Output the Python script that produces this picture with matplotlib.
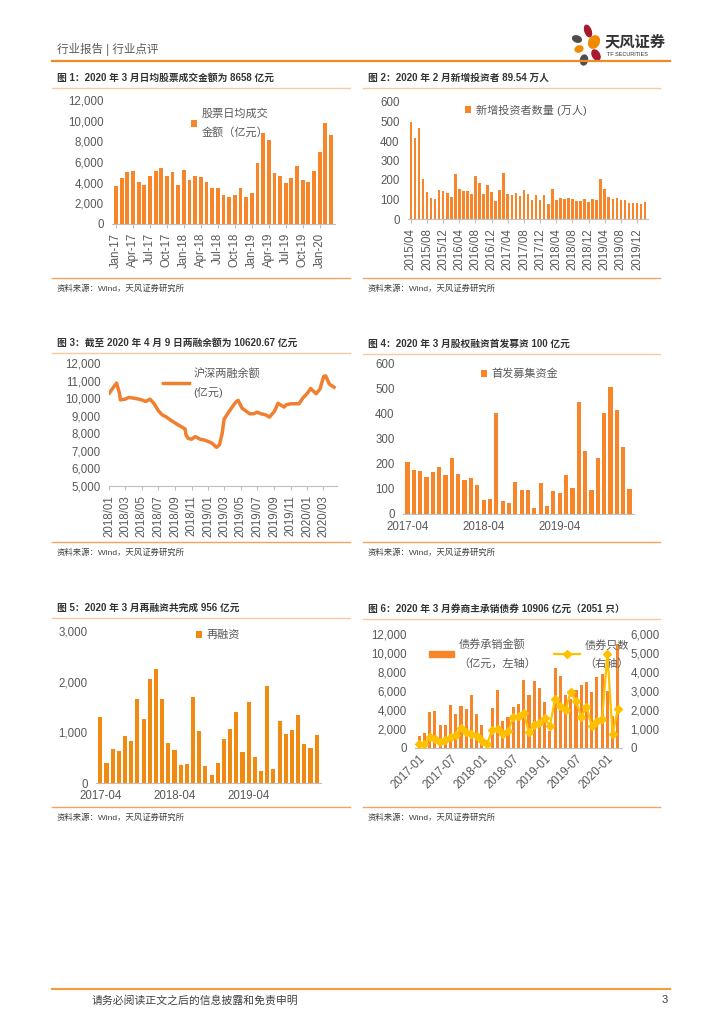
import numpy as np
import pandas as pd
import matplotlib
matplotlib.use('Agg')
import matplotlib.pyplot as plt
import matplotlib.dates as mdates
from matplotlib.patches import Ellipse, Patch
from matplotlib.lines import Line2D

plt.rcParams['font.family'] = ['Liberation Sans', 'Noto Sans CJK SC']
plt.rcParams['axes.unicode_minus'] = False

# ---- data ----
# fig 1: daily avg turnover (亿元), Jan-17 .. Mar-20
turnover = [3700, 4500, 5000, 5100, 4050, 3800, 4600, 5100, 5400, 4600, 5000, 3800,
            5200, 4300, 4650, 4550, 4100, 3500, 3500, 2800, 2600, 2800, 3500, 2600,
            3000, 5900, 8800, 8100, 4900, 4600, 4000, 4500, 5600, 4300, 4050, 5100,
            6950, 9800, 8658]
turnover_start = '2017-01'

# fig 2: new investors (万人), 2015/04 .. 2020/02
new_investors = [497, 415, 465, 205, 137, 108, 105, 147, 142,
                 135, 115, 230, 155, 142, 142, 130, 220, 185, 130, 175, 140,
                 93, 150, 235, 128, 122, 133, 120, 150, 130, 95, 122, 97,
                 122, 75, 155, 95, 107, 102, 107, 105, 90, 90, 105, 85,
                 103, 98, 203, 153, 115, 105, 107, 97, 95, 80, 82, 80,
                 78, 89.54]
investors_start = '2015-04'

# fig 3: margin balance (亿元)
margin_dates = ['2018-01-02', '2018-01-15', '2018-01-29', '2018-02-09', '2018-02-12', '2018-03-01',
                '2018-03-15', '2018-04-02', '2018-04-16', '2018-05-02', '2018-05-16', '2018-06-01',
                '2018-06-15', '2018-07-02', '2018-07-16', '2018-08-01', '2018-08-15', '2018-09-03',
                '2018-09-17', '2018-10-08', '2018-10-12', '2018-10-19', '2018-11-01', '2018-11-15',
                '2018-12-03', '2018-12-17', '2019-01-02', '2019-01-16', '2019-02-01', '2019-02-12',
                '2019-02-22', '2019-03-01', '2019-03-15', '2019-04-01', '2019-04-15', '2019-04-22',
                '2019-05-06', '2019-05-15', '2019-06-03', '2019-06-17', '2019-07-01', '2019-07-15',
                '2019-08-01', '2019-08-15', '2019-09-02', '2019-09-16', '2019-10-08', '2019-10-16',
                '2019-11-01', '2019-11-15', '2019-12-02', '2019-12-16', '2020-01-02', '2020-01-14',
                '2020-02-03', '2020-02-17', '2020-03-02', '2020-03-09', '2020-03-23', '2020-04-09']
margin_vals = [10285, 10570, 10855, 10250, 9900, 9940,
               10040, 10000, 9960, 9900, 9810, 9940,
               9710, 9280, 9050, 8920, 8760, 8570,
               8440, 8250, 7900, 7720, 7660, 7810,
               7660, 7620, 7530, 7430, 7200, 7340,
               8000, 8800, 9140, 9520, 9810, 9870,
               9430, 9330, 9110, 9110, 9200, 9110,
               9050, 8920, 9240, 9710, 9490, 9620,
               9680, 9680, 9680, 10000, 10285, 10550,
               10250, 10510, 11235, 11270, 10800, 10620.67]

# fig 4: IPO funds (亿元), 2017-04 .. 2020-03
ipo = [205, 175, 170, 148, 167, 185, 155, 222, 160, 135, 142, 115,
       55, 60, 403, 50, 45, 128, 97, 95, 25, 125, 30, 92,
       85, 155, 102, 445, 250, 97, 222, 400, 505, 415, 268, 100]

# fig 5: refinancing (亿元), 2017-04 .. 2020-03
refin = [1300, 400, 670, 640, 930, 820, 1650, 1260, 2050, 2250, 1650, 790,
         660, 360, 370, 1700, 1020, 340, 150, 390, 870, 1070, 1410, 610,
         1590, 510, 240, 1920, 270, 1230, 970, 1050, 1350, 760, 690, 956]
equity_start = '2017-04'

# fig 6: bond underwriting, 2017-01 .. 2020-03
bond_amt = [1230, 1580, 3790, 3860, 2460, 2460, 4560, 3610, 4390, 4100, 5540, 3610,
            2390, 880, 4250, 6140, 2810, 3260, 4320, 4670, 7120, 5610, 7090, 6320,
            4810, 1750, 8420, 7540, 5600, 5200, 6140, 6600, 6900, 5900, 7440, 7790,
            6040, 3330, 10906]
bond_cnt = [230, 230, 560, 490, 300, 420, 560, 660, 1040, 830, 730, 610,
            350, 230, 960, 990, 730, 870, 1650, 1690, 1860, 820, 1220, 1340,
            1570, 1170, 2570, 2230, 2000, 2960, 2470, 1650, 2170, 1170, 1430, 1530,
            4960, 730, 2051]
bond_start = '2017-01'

W, H = 724, 1024
ORANGE = '#F7862A'
TXT = '#595959'

fig = plt.figure(figsize=(W / 100, H / 100), dpi=100)
fig.patch.set_facecolor('white')

# page overlay in pixel coords
page = fig.add_axes([0, 0, 1, 1], zorder=-1)
page.set_xlim(0, W)
page.set_ylim(H, 0)
page.axis('off')


def px_axes(x0, y0, x1, y1):
    return fig.add_axes([x0 / W, 1 - y1 / H, (x1 - x0) / W, (y1 - y0) / H])


def style(ax, ymax, step, fmt='{:,.0f}', ymin=0):
    ax.set_ylim(ymin, ymax)
    ax.set_yticks(np.arange(ymin, ymax + 1, step))
    ax.set_yticklabels([fmt.format(v) for v in np.arange(ymin, ymax + 1, step)])
    for s in ['top', 'right', 'left']:
        ax.spines[s].set_visible(False)
    ax.spines['bottom'].set_color('#BFBFBF')
    ax.tick_params(axis='y', length=0, labelsize=8.3, labelcolor=TXT, pad=6)
    ax.tick_params(axis='x', length=3, color='#BFBFBF', labelsize=8.3, labelcolor=TXT)
    ax.set_facecolor('none')


def add_legend(ax, x, y, spacing=1.9, **kw):
    opts = dict(loc='center left', bbox_to_anchor=(x / W, 1 - y / H), bbox_transform=fig.transFigure,
                frameon=False, fontsize=8, handlelength=0.6, handleheight=0.6, handletextpad=0.4,
                labelcolor=TXT, borderpad=0)
    opts.update(kw)
    leg = ax.legend(**opts)
    for t in leg.get_texts():
        t.set_linespacing(spacing)
    return leg


def frame(x0, x1, y_title, y_bottom, title):
    page.text(x0 + 5, y_title, title, fontsize=7, fontweight='bold', color='#333333', va='center')
    page.plot([x0, x1], [y_title + 10, y_title + 10], color='#F9C9A0', lw=1)
    page.plot([x0, x1], [y_bottom, y_bottom], color='#F5A25D', lw=1)
    page.text(x0 + 5, y_bottom + 11, '资料来源：Wind，天风证券研究所', fontsize=6, color='#404040', va='center')


# header / footer
page.text(57, 49, '行业报告 | 行业点评', fontsize=8.3, color='#595959', va='center')
page.plot([52, 670], [61, 61], color='#F08A24', lw=1.6)
page.plot([52, 670], [989, 989], color='#F0A040', lw=1.6)
page.text(92, 1000, '请务必阅读正文之后的信息披露和免责申明', fontsize=7.8, color='#404040', va='center')
page.text(662, 1000, '3', fontsize=8, color='#404040', va='center')
for (cx, cy, w, h, ang, c) in [(588, 31, 6, 12, -20, '#A6192E'), (577, 39, 9, 6, 20, '#4D4D4D'),
                               (594, 42, 10, 13, 30, '#F08A00'), (579, 49, 8, 6, -20, '#F08A00'),
                               (596, 55, 7, 11, -30, '#A6192E'), (584, 60, 7, 10, 10, '#4D4D4D')]:
    page.add_patch(Ellipse((cx, cy), w, h, angle=ang, color=c))
page.text(605, 42, '天风证券', fontsize=11, fontweight='bold', color='#333333', va='center')
page.text(607, 55, 'TF SECURITIES', fontsize=4, color='#333333', va='center')

# ---- fig 1 ----
frame(52, 350, 78, 278, '图 1：2020 年 3 月日均股票成交金额为 8658 亿元')
ax1 = px_axes(112, 100, 335, 224)
x = np.arange(len(turnover))
ax1.bar(x, turnover, width=0.68, color=ORANGE, label='股票日均成交\n金额（亿元）')
style(ax1, 12000, 2000)
ax1.set_xlim(-0.7, len(turnover) - 0.3)
m1 = pd.date_range(turnover_start, periods=len(turnover), freq='MS')
ax1.set_xticks(x[::3])
ax1.set_xticklabels(m1[::3].strftime('%b-%y'), rotation=90)
add_legend(ax1, 185, 123)

# ---- fig 2 ----
frame(363, 660, 78, 278, '图 2：2020 年 2 月新增投资者 89.54 万人')
ax2 = px_axes(408, 102, 648, 219)
x = np.arange(len(new_investors))
ax2.bar(x, new_investors, width=0.65, color=ORANGE, label='新增投资者数量 (万人)')
style(ax2, 600, 100, fmt='{:.0f}')
ax2.set_xlim(-0.7, len(new_investors) - 0.3)
m2 = pd.date_range(investors_start, periods=len(new_investors), freq='MS')
ax2.set_xticks(x[::4])
ax2.set_xticklabels(m2[::4].strftime('%Y/%m'), rotation=90)
add_legend(ax2, 459, 110)

# ---- fig 3 ----
frame(52, 350, 343, 542, '图 3：截至 2020 年 4 月 9 日两融余额为 10620.67 亿元')
ax3 = px_axes(109, 363, 337, 486)
d3 = pd.to_datetime(margin_dates)
ax3.plot(d3, margin_vals, color='#F08030', lw=2.5, label='沪深两融余额\n(亿元)')
style(ax3, 12000, 1000, ymin=5000)
ax3.set_xlim(pd.Timestamp('2018-01-01'), pd.Timestamp('2020-04-20'))
ax3.set_xticks(pd.date_range('2018-01-01', '2020-03-01', freq='2MS'))
ax3.xaxis.set_major_formatter(mdates.DateFormatter('%Y/%m'))
ax3.tick_params(axis='x', rotation=90)
add_legend(ax3, 157, 383, handlelength=2.4, handleheight=0.7)

# ---- fig 4 ----
frame(363, 660, 344, 542, '图 4：2020 年 3 月股权融资首发募资 100 亿元')
ax4 = px_axes(403, 363, 634, 514)
x = np.arange(len(ipo))
ax4.bar(x, ipo, width=0.65, color=ORANGE, label='首发募集资金')
style(ax4, 600, 100, fmt='{:.0f}')
ax4.set_xlim(-0.7, len(ipo) - 0.3)
m4 = pd.date_range(equity_start, periods=len(ipo), freq='MS')
ax4.set_xticks(x[::12])
ax4.set_xticklabels(m4[::12].strftime('%Y-%m'))
ax4.tick_params(axis='x', length=0, pad=5)
add_legend(ax4, 475, 374)

# ---- fig 5 ----
frame(52, 350, 608, 807, '图 5：2020 年 3 月再融资共完成 956 亿元')
ax5 = px_axes(96, 631, 321, 783)
x = np.arange(len(refin))
ax5.bar(x, refin, width=0.65, color='#F08A10', label='再融资')
style(ax5, 3000, 1000)
ax5.set_xlim(-0.7, len(refin) - 0.3)
m5 = pd.date_range(equity_start, periods=len(refin), freq='MS')
ax5.set_xticks(x[::12])
ax5.set_xticklabels(m5[::12].strftime('%Y-%m'))
ax5.tick_params(axis='x', length=0, pad=5)
add_legend(ax5, 190, 635)

# ---- fig 6 ----
frame(363, 660, 609, 807, '图 6：2020 年 3 月券商主承销债券 10906 亿元（2051 只）')
ax6 = px_axes(415, 634, 622, 748)
x = np.arange(len(bond_amt))
ax6.bar(x, bond_amt, width=0.6, color=ORANGE)
style(ax6, 12000, 2000)
ax6.set_xlim(-0.8, len(bond_amt) - 0.2)
m6 = pd.date_range(bond_start, periods=len(bond_amt), freq='MS')
ax6.set_xticks(x[::6])
ax6.set_xticklabels(m6[::6].strftime('%Y-%m'), rotation=45, ha='right', rotation_mode='anchor')
ax6.tick_params(axis='x', length=0)
ax6r = ax6.twinx()
ax6r.plot(x, bond_cnt, color='#FFC000', lw=1.6, marker='D', markersize=4.5)
ax6r.set_ylim(0, 6000)
ax6r.set_yticks(np.arange(0, 6001, 1000))
ax6r.set_yticklabels(['{:,.0f}'.format(v) for v in np.arange(0, 6001, 1000)])
for s in ['top', 'right', 'left', 'bottom']:
    ax6r.spines[s].set_visible(False)
ax6r.tick_params(axis='y', length=0, labelsize=8.3, labelcolor=TXT, pad=6)
h1 = Patch(color=ORANGE)
h2 = Line2D([], [], color='#FFC000', lw=1.6, marker='D', markersize=4.5)
leg6 = ax6.legend([h1, h2], ['债券承销金额\n（亿元，左轴）', '债券只数\n（右轴）'], ncol=2,
                  loc='center left', bbox_to_anchor=(423 / W, 1 - 654 / H), bbox_transform=fig.transFigure,
                  frameon=False, fontsize=8, handlelength=2.3, handleheight=0.5, handletextpad=0.4,
                  columnspacing=1.6, labelcolor=TXT, borderpad=0)
for t in leg6.get_texts():
    t.set_linespacing(1.9)

fig.savefig('out.png', dpi=100, facecolor='white')
